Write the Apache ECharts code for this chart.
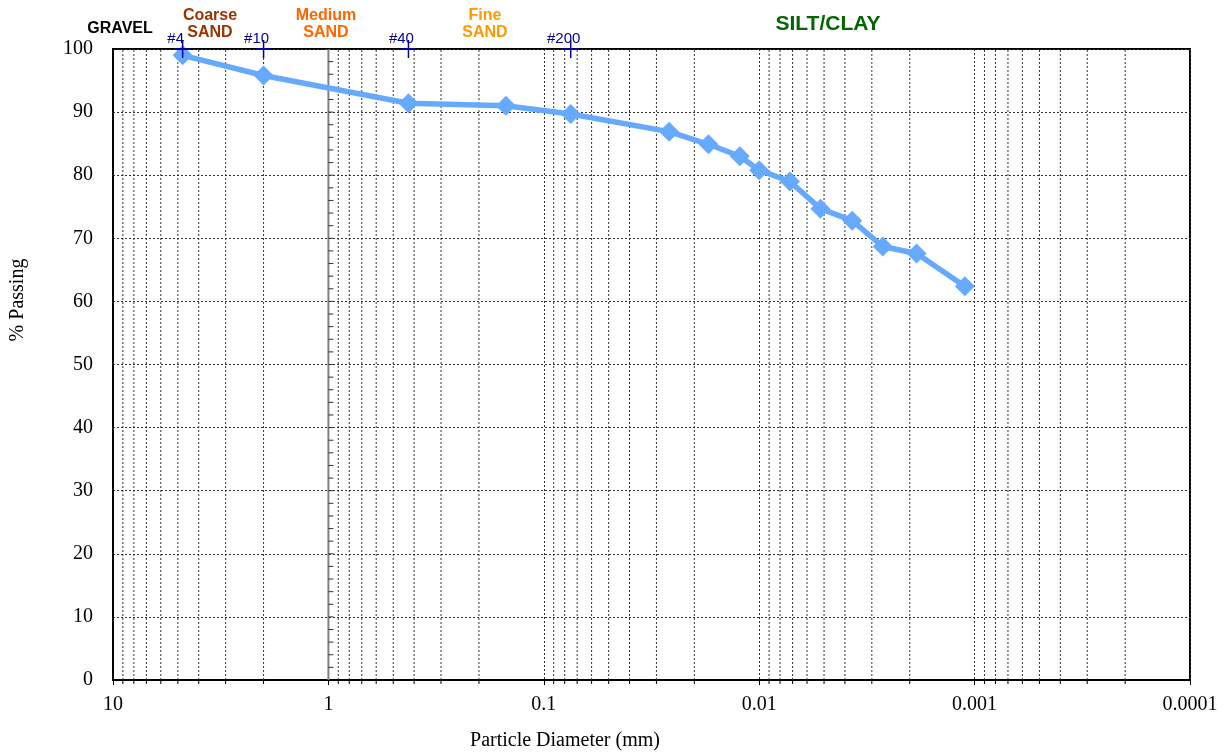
<!DOCTYPE html>
<html>
<head>
<meta charset="utf-8">
<script src="https://cdn.jsdelivr.net/npm/echarts@6/dist/echarts.min.js"></script>
<style>
  html, body { margin: 0; padding: 0; background: #fff; }
  #chart { width: 1228px; height: 753px; }
</style>
</head>
<body>
<div id="chart"></div>
<script>
// Grain-size distribution: sieve + hydrometer results
const diameters = [4.75, 2.0, 0.425, 0.15, 0.075, 0.0262, 0.0172, 0.0123, 0.0100, 0.0072, 0.0052, 0.0037, 0.00267, 0.00186, 0.00111];
const percentPassing = [99.0, 95.8, 91.4, 91.0, 89.7, 86.9, 84.9, 83.0, 80.8, 79.0, 74.7, 72.8, 68.7, 67.6, 62.4];

// Standard sieve openings marked along the top edge
const sieveSizes = [4.75, 2.0, 0.425, 0.075];
const sieveNames = ['#4', '#10', '#40', '#200'];

// Decade labels on the diameter axis
const xTickLabels = ['10', '1', '0.1', '0.01', '0.001', '0.0001'];
const decades = [1, 0.1, 0.01, 0.001, 0.0001];
const minorSteps = [2, 3, 4, 5, 6, 7, 8, 9];

const minorGrid = [];
decades.forEach(d => minorSteps.forEach(m => minorGrid.push([+(d * m).toPrecision(3), 0])));

const serif = '"Liberation Serif", "Times New Roman", serif';
const sans = '"Liberation Sans", Arial, sans-serif';

const chart = echarts.init(document.getElementById('chart'));

chart.setOption({
  animation: false,
  backgroundColor: '#fff',
  grid: { left: 113, right: 38, top: 49, bottom: 73, show: true, borderColor: '#000', borderWidth: 2 },
  xAxis: {
    type: 'log',
    logBase: 10,
    min: 0.0001,
    max: 10,
    inverse: true,
    axisLine: { lineStyle: { color: '#000', width: 2 } },
    axisTick: { show: true, length: 5, lineStyle: { color: '#000' } },
    axisLabel: {
      margin: 15,
      fontFamily: serif,
      fontSize: 20,
      color: '#000',
      formatter: v => {
        const s = String(Number(Number(v).toPrecision(1)));
        return xTickLabels.indexOf(s) >= 0 ? s : '';
      }
    },
    splitLine: { show: true, lineStyle: { color: '#333', type: [2, 2], width: 1 } },
    minorTick: { show: false },
    minorSplitLine: { show: false }
  },
  yAxis: {
    type: 'value',
    min: 0,
    max: 100,
    interval: 10,
    axisLine: { show: true, lineStyle: { color: '#000', width: 2 } },
    axisTick: { show: false },
    axisLabel: { margin: 20, fontFamily: serif, fontSize: 20, color: '#000' },
    splitLine: { show: true, lineStyle: { color: '#333', type: [2, 2], width: 1 } }
  },
  graphic: [
    { type: 'text', x: 120, y: 29, style: { text: 'GRAVEL', font: 'bold 16px ' + sans, fill: '#000', align: 'center', verticalAlign: 'middle' } },
    { type: 'text', x: 210, y: 7, style: { text: 'Coarse\nSAND', font: 'bold 16px ' + sans, fill: '#993300', align: 'center', lineHeight: 17 } },
    { type: 'text', x: 326, y: 7, style: { text: 'Medium\nSAND', font: 'bold 16px ' + sans, fill: '#FF6600', align: 'center', lineHeight: 17 } },
    { type: 'text', x: 485, y: 7, style: { text: 'Fine\nSAND', font: 'bold 16px ' + sans, fill: '#FF9900', align: 'center', lineHeight: 17 } },
    { type: 'text', x: 828, y: 24, style: { text: 'SILT/CLAY', font: 'bold 21px ' + sans, fill: '#006600', align: 'center', verticalAlign: 'middle' } },
    { type: 'text', x: 565, y: 741, style: { text: 'Particle Diameter (mm)', font: '20px ' + serif, fill: '#000', align: 'center', verticalAlign: 'middle' } },
    { type: 'text', x: 18, y: 300, rotation: Math.PI / 2, style: { text: '% Passing', font: '20px ' + serif, fill: '#000', align: 'center', verticalAlign: 'middle' } }
  ],
  series: [
    {
      // dotted minor gridlines within each decade, with short ticks below the axis
      type: 'custom',
      coordinateSystem: 'cartesian2d',
      silent: true,
      clip: false,
      z: 1,
      data: minorGrid,
      renderItem: (params, api) => {
        const v = api.value(0);
        const p0 = api.coord([v, 0]);
        const p1 = api.coord([v, 100]);
        return {
          type: 'group',
          children: [
            {
              type: 'line',
              shape: { x1: p0[0], y1: p0[1], x2: p1[0], y2: p1[1] },
              style: { stroke: '#333', lineWidth: 1, lineDash: [2, 2] }
            },
            {
              type: 'line',
              shape: { x1: p0[0], y1: p0[1], x2: p0[0], y2: p0[1] + 4 },
              style: { stroke: '#000', lineWidth: 1 }
            }
          ]
        };
      }
    },
    {
      // inner percent axis at 1 mm with minor ticks every 2 %
      type: 'custom',
      coordinateSystem: 'cartesian2d',
      silent: true,
      z: 2,
      data: [[1, 0]],
      renderItem: (params, api) => {
        const v = api.value(0);
        const p0 = api.coord([v, 0]);
        const p1 = api.coord([v, 100]);
        const children = [{
          type: 'line',
          shape: { x1: p0[0], y1: p0[1], x2: p1[0], y2: p1[1] },
          style: { stroke: '#808080', lineWidth: 2 }
        }];
        for (let t = 2; t < 100; t += 2) {
          const p = api.coord([v, t]);
          children.push({
            type: 'line',
            shape: { x1: p[0], y1: p[1], x2: p[0] + 5, y2: p[1] },
            style: { stroke: '#333', lineWidth: 1 }
          });
        }
        return { type: 'group', children };
      }
    },
    {
      name: '% Passing',
      type: 'line',
      z: 5,
      data: diameters.map((d, i) => [d, percentPassing[i]]),
      symbol: 'diamond',
      symbolSize: 20,
      lineStyle: { color: '#66AAFF', width: 5.5 },
      itemStyle: { color: '#66AAFF' }
    },
    {
      // sieve markers crossing the top edge
      type: 'custom',
      coordinateSystem: 'cartesian2d',
      silent: true,
      clip: false,
      z: 10,
      data: sieveSizes.map((d, i) => [d, 100, sieveNames[i]]),
      renderItem: (params, api) => {
        const p = api.coord([api.value(0), 100]);
        const name = sieveNames[params.dataIndex];
        return {
          type: 'group',
          children: [
            { type: 'line', shape: { x1: p[0], y1: p[1] - 9, x2: p[0], y2: p[1] + 9 }, style: { stroke: '#000099', lineWidth: 1.5 } },
            { type: 'line', shape: { x1: p[0] - 8, y1: p[1], x2: p[0] + 8, y2: p[1] }, style: { stroke: '#000099', lineWidth: 2 } },
            { type: 'text', x: p[0] - 7, y: p[1] - 3, style: { text: name, font: '15px ' + sans, fill: '#000099', align: 'center', verticalAlign: 'bottom' } }
          ]
        };
      }
    }
  ]
});
</script>
</body>
</html>
